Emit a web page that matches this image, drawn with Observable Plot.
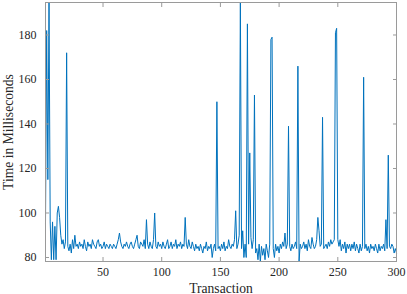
<!DOCTYPE html>
<html>
<head>
<meta charset="utf-8">
<script src="https://cdn.jsdelivr.net/npm/d3@7"></script>
<script src="https://cdn.jsdelivr.net/npm/@observablehq/plot@0.6"></script>
<style>
  html, body { margin: 0; padding: 0; background: #fff; }
  #chart svg { display: block; }
  #chart svg, #chart svg text { font-family: "Liberation Serif", "DejaVu Serif", serif !important; }
</style>
</head>
<body>
<div id="chart"></div>
<script>
// Response time (ms) for transactions 1..300
const times = [
  95, 182, 115, 194.6, 96, 79, 96, 79, 94, 79,
  100, 103, 98, 90, 86, 88, 84, 87, 172, 85,
  83, 86, 82, 88, 84, 90, 85, 86, 84, 87,
  85, 86, 84, 88, 85, 83, 87, 85, 86, 84,
  88, 86, 85, 84, 87, 88, 85, 86, 84, 85,
  87, 84, 86, 85, 84, 86, 85, 84, 86, 85,
  84, 86, 88, 91, 87, 85, 84, 86, 85, 87,
  85, 84, 86, 87, 85, 84, 86, 88, 90, 85,
  84, 87, 86, 85, 88, 84, 97, 86, 84, 87,
  85, 84, 88, 100, 85, 84, 87, 85, 86, 84,
  87, 85, 84, 86, 88, 84, 85, 87, 84, 86,
  85, 88, 84, 86, 85, 87, 84, 86, 85, 98,
  86, 84, 88, 85, 84, 87, 85, 83, 86, 84,
  85, 83, 86, 84, 82, 85, 84, 87, 83, 85,
  84, 86, 80, 84, 86, 83, 150, 84, 85, 83,
  86, 84, 87, 83, 85, 84, 88, 85, 84, 86,
  85, 88, 101, 84, 86, 90, 194.6, 84, 92, 80,
  86, 80, 185, 86, 127, 89, 84, 88, 153, 82,
  84, 79, 86, 78.2, 85, 81, 84, 79, 86, 83,
  80, 86, 178, 179, 84, 80, 86, 83, 85, 82,
  86, 84, 87, 85, 91, 84, 86, 139, 85, 83,
  86, 84, 85, 87, 84, 166, 78.4, 86, 84, 85,
  87, 84, 86, 83, 88, 85, 84, 89, 86, 84,
  85, 88, 98, 92, 85, 86, 143, 84, 85, 86,
  84, 87, 85, 88, 86, 87, 88, 181, 183, 88,
  85, 88, 83, 86, 84, 87, 82, 86, 84, 86,
  83, 86, 84, 87, 83, 86, 84, 82, 86, 83,
  85, 161, 84, 86, 83, 85, 82, 86, 84, 85,
  83, 86, 84, 82, 86, 83, 85, 84, 86, 83,
  97, 84, 126, 85, 84, 86, 85, 82, 84, 82
];
const transactions = times.map((_, i) => i + 1);
const xTicks = [50, 100, 150, 200, 250, 300];
const yTicks = [80, 100, 120, 140, 160, 180];
const xDomain = [1, 300];
const yDomain = [78.2, 194.6];
const xLabel = "Transaction";
const yLabel = "Time in Milliseconds";

const data = transactions.map((t, i) => ({t, v: times[i]}));

const axisColor = "#9a9a9a";
const textColor = "#262626";
const lineColor = "#0072BD";
const serif = "Liberation Serif";

const chart = Plot.plot({
  width: 407,
  height: 294,
  marginTop: 2,
  marginRight: 11,
  marginBottom: 33,
  marginLeft: 45,
  style: {fontFamily: serif, fontSize: "12px", color: textColor, background: "#fff"},
  x: {domain: xDomain},
  y: {domain: yDomain},
  marks: [
    Plot.line(data, {x: "t", y: "v", stroke: lineColor, strokeWidth: 1}),
    Plot.frame({stroke: axisColor, strokeWidth: 1}),
    // inward tick marks on all four sides
    Plot.axisX({anchor: "bottom", ticks: xTicks, tickSize: 4, inset: 4, tickFormat: () => "", label: null, stroke: axisColor}),
    Plot.axisX({anchor: "top", ticks: xTicks, tickSize: 4, inset: 4, tickFormat: () => "", label: null, stroke: axisColor}),
    Plot.axisY({anchor: "left", ticks: yTicks, tickSize: 4, inset: 4, tickFormat: () => "", label: null, stroke: axisColor}),
    Plot.axisY({anchor: "right", ticks: yTicks, tickSize: 4, inset: 4, tickFormat: () => "", label: null, stroke: axisColor}),
    // tick labels
    Plot.axisX({anchor: "bottom", ticks: xTicks, tickSize: 0, tickPadding: 6, label: null, fill: textColor, fontSize: 12, fontFamily: serif}),
    Plot.axisY({anchor: "left", ticks: yTicks, tickSize: 0, tickPadding: 9, label: null, fill: textColor, fontSize: 12, fontFamily: serif}),
    // axis titles
    Plot.axisX({anchor: "bottom", ticks: [], tickSize: 0, label: xLabel, labelAnchor: "center", labelArrow: "none", labelOffset: 31, fill: textColor, fontSize: 13.6, fontFamily: serif}),
    Plot.axisY({anchor: "left", ticks: [], tickSize: 0, label: yLabel, labelAnchor: "center", labelArrow: "none", labelOffset: 42, fill: textColor, fontSize: 13.6, fontFamily: serif})
  ]
});
document.getElementById("chart").appendChild(chart);
</script>
</body>
</html>
